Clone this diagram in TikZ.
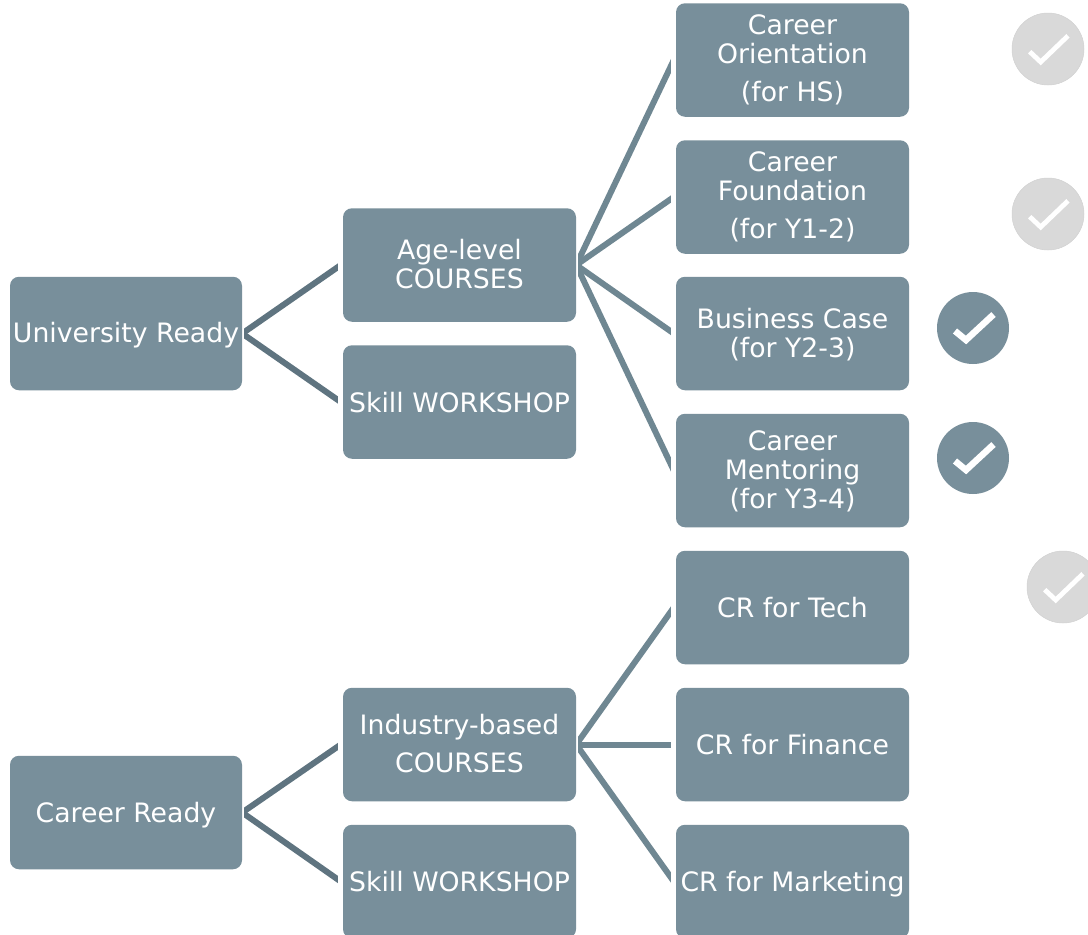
\documentclass[tikz,border=0pt]{standalone}
\usepackage{fontspec}
\setmainfont{DejaVu Sans}
\usetikzlibrary{calc}
\definecolor{boxcol}{HTML}{788F9B}
\definecolor{lineleft}{HTML}{5F7480}
\definecolor{lineright}{HTML}{6F8792}
\definecolor{doneoff}{HTML}{D9D9D9}
\tikzset{
  box/.style={fill=boxcol,rounded corners=9pt,minimum width=233pt,minimum height=113.5pt,inner sep=0pt,align=center,text=white,text depth=0pt,font=\fontsize{26.7}{29}\selectfont},
  linkl/.style={draw=lineleft,line width=6pt},
  linkr/.style={draw=lineright,line width=6pt},
  badge/.style={circle,minimum size=72pt,inner sep=0pt},
  badgeon/.style={badge,fill=boxcol},
  badgeoff/.style={badge,fill=doneoff,draw=black!18,line width=.5pt},
  tickon/.style={draw=white,line width=6.5pt,miter limit=10},
  tickoff/.style={draw=white,line width=4.8pt,miter limit=10}
}
\newcommand{\tickon}[1]{\draw[tickon] ($(#1)+(-18,3)$) -- ($(#1)+(-7,12)$) -- ($(#1)+(20.5,-13.5)$);}
\newcommand{\tickoff}[1]{\draw[tickoff] ($(#1)+(-18.3,2.7)$) -- ($(#1)+(-7.3,13)$) -- ($(#1)+(20,-13.2)$);}
\newcommand{\linkout}[3]{\begin{scope}
  \clip ($(#2.east)+(2,-500)$) rectangle ($(#3.west)+(-5,500)$);
  \draw[#1] (#2.east) -- ($(#3.west)+(-2,0)$);
\end{scope}}
\begin{document}
\begin{tikzpicture}[x=1pt,y=-1pt]
\clip (0,0) rectangle (1088,935);
\fill[white] (0,0) rectangle (1088,935);
\node[box,minimum width=232pt,text depth=2pt] (ur) at (126,333.5) {University Ready};
\node[box,minimum width=232pt] (cr) at (126,812.5) {Career Ready};
\node[box,text depth=2pt] (age) at (459.5,265) {Age-level\\COURSES};
\node[box] (sw1) at (459.5,402) {Skill WORKSHOP};
\node[box,text depth=2pt] (ind) at (459.5,744.5) {Industry-based\\[9pt]COURSES};
\node[box] (sw2) at (459.5,881.5) {Skill WORKSHOP};
\node[box,text depth=4pt] (co) at (792.5,60) {Career\\Orientation\\[9pt](for HS)};
\node[box,text depth=4pt] (cf) at (792.5,197) {Career\\Foundation\\[9pt](for Y1-2)};
\node[box,text depth=2pt] (bc) at (792.5,333.5) {Business Case\\(for Y2-3)};
\node[box,text depth=2pt] (cm) at (792.5,470.5) {Career\\Mentoring\\(for Y3-4)};
\node[box] (tech) at (792.5,607.5) {CR for Tech};
\node[box,text depth=1pt] (fin) at (792.5,744.5) {CR for Finance};
\node[box] (mkt) at (792.5,881.5) {CR for Marketing};
\linkout{linkl}{ur}{age}
\linkout{linkl}{ur}{sw1}
\linkout{linkl}{cr}{ind}
\linkout{linkl}{cr}{sw2}
\linkout{linkr}{age}{co}
\linkout{linkr}{age}{cf}
\linkout{linkr}{age}{bc}
\linkout{linkr}{age}{cm}
\linkout{linkr}{ind}{tech}
\linkout{linkr}{ind}{fin}
\linkout{linkr}{ind}{mkt}
\node[badgeoff] (c1) at (1048,49) {}; \tickoff{c1}
\node[badgeoff] (c2) at (1048,214) {}; \tickoff{c2}
\node[badgeon] (c3) at (973,328) {}; \tickon{c3}
\node[badgeon] (c4) at (973,458) {}; \tickon{c4}
\node[badgeoff] (c5) at (1063,587) {}; \tickoff{c5}
\end{tikzpicture}
\end{document}
